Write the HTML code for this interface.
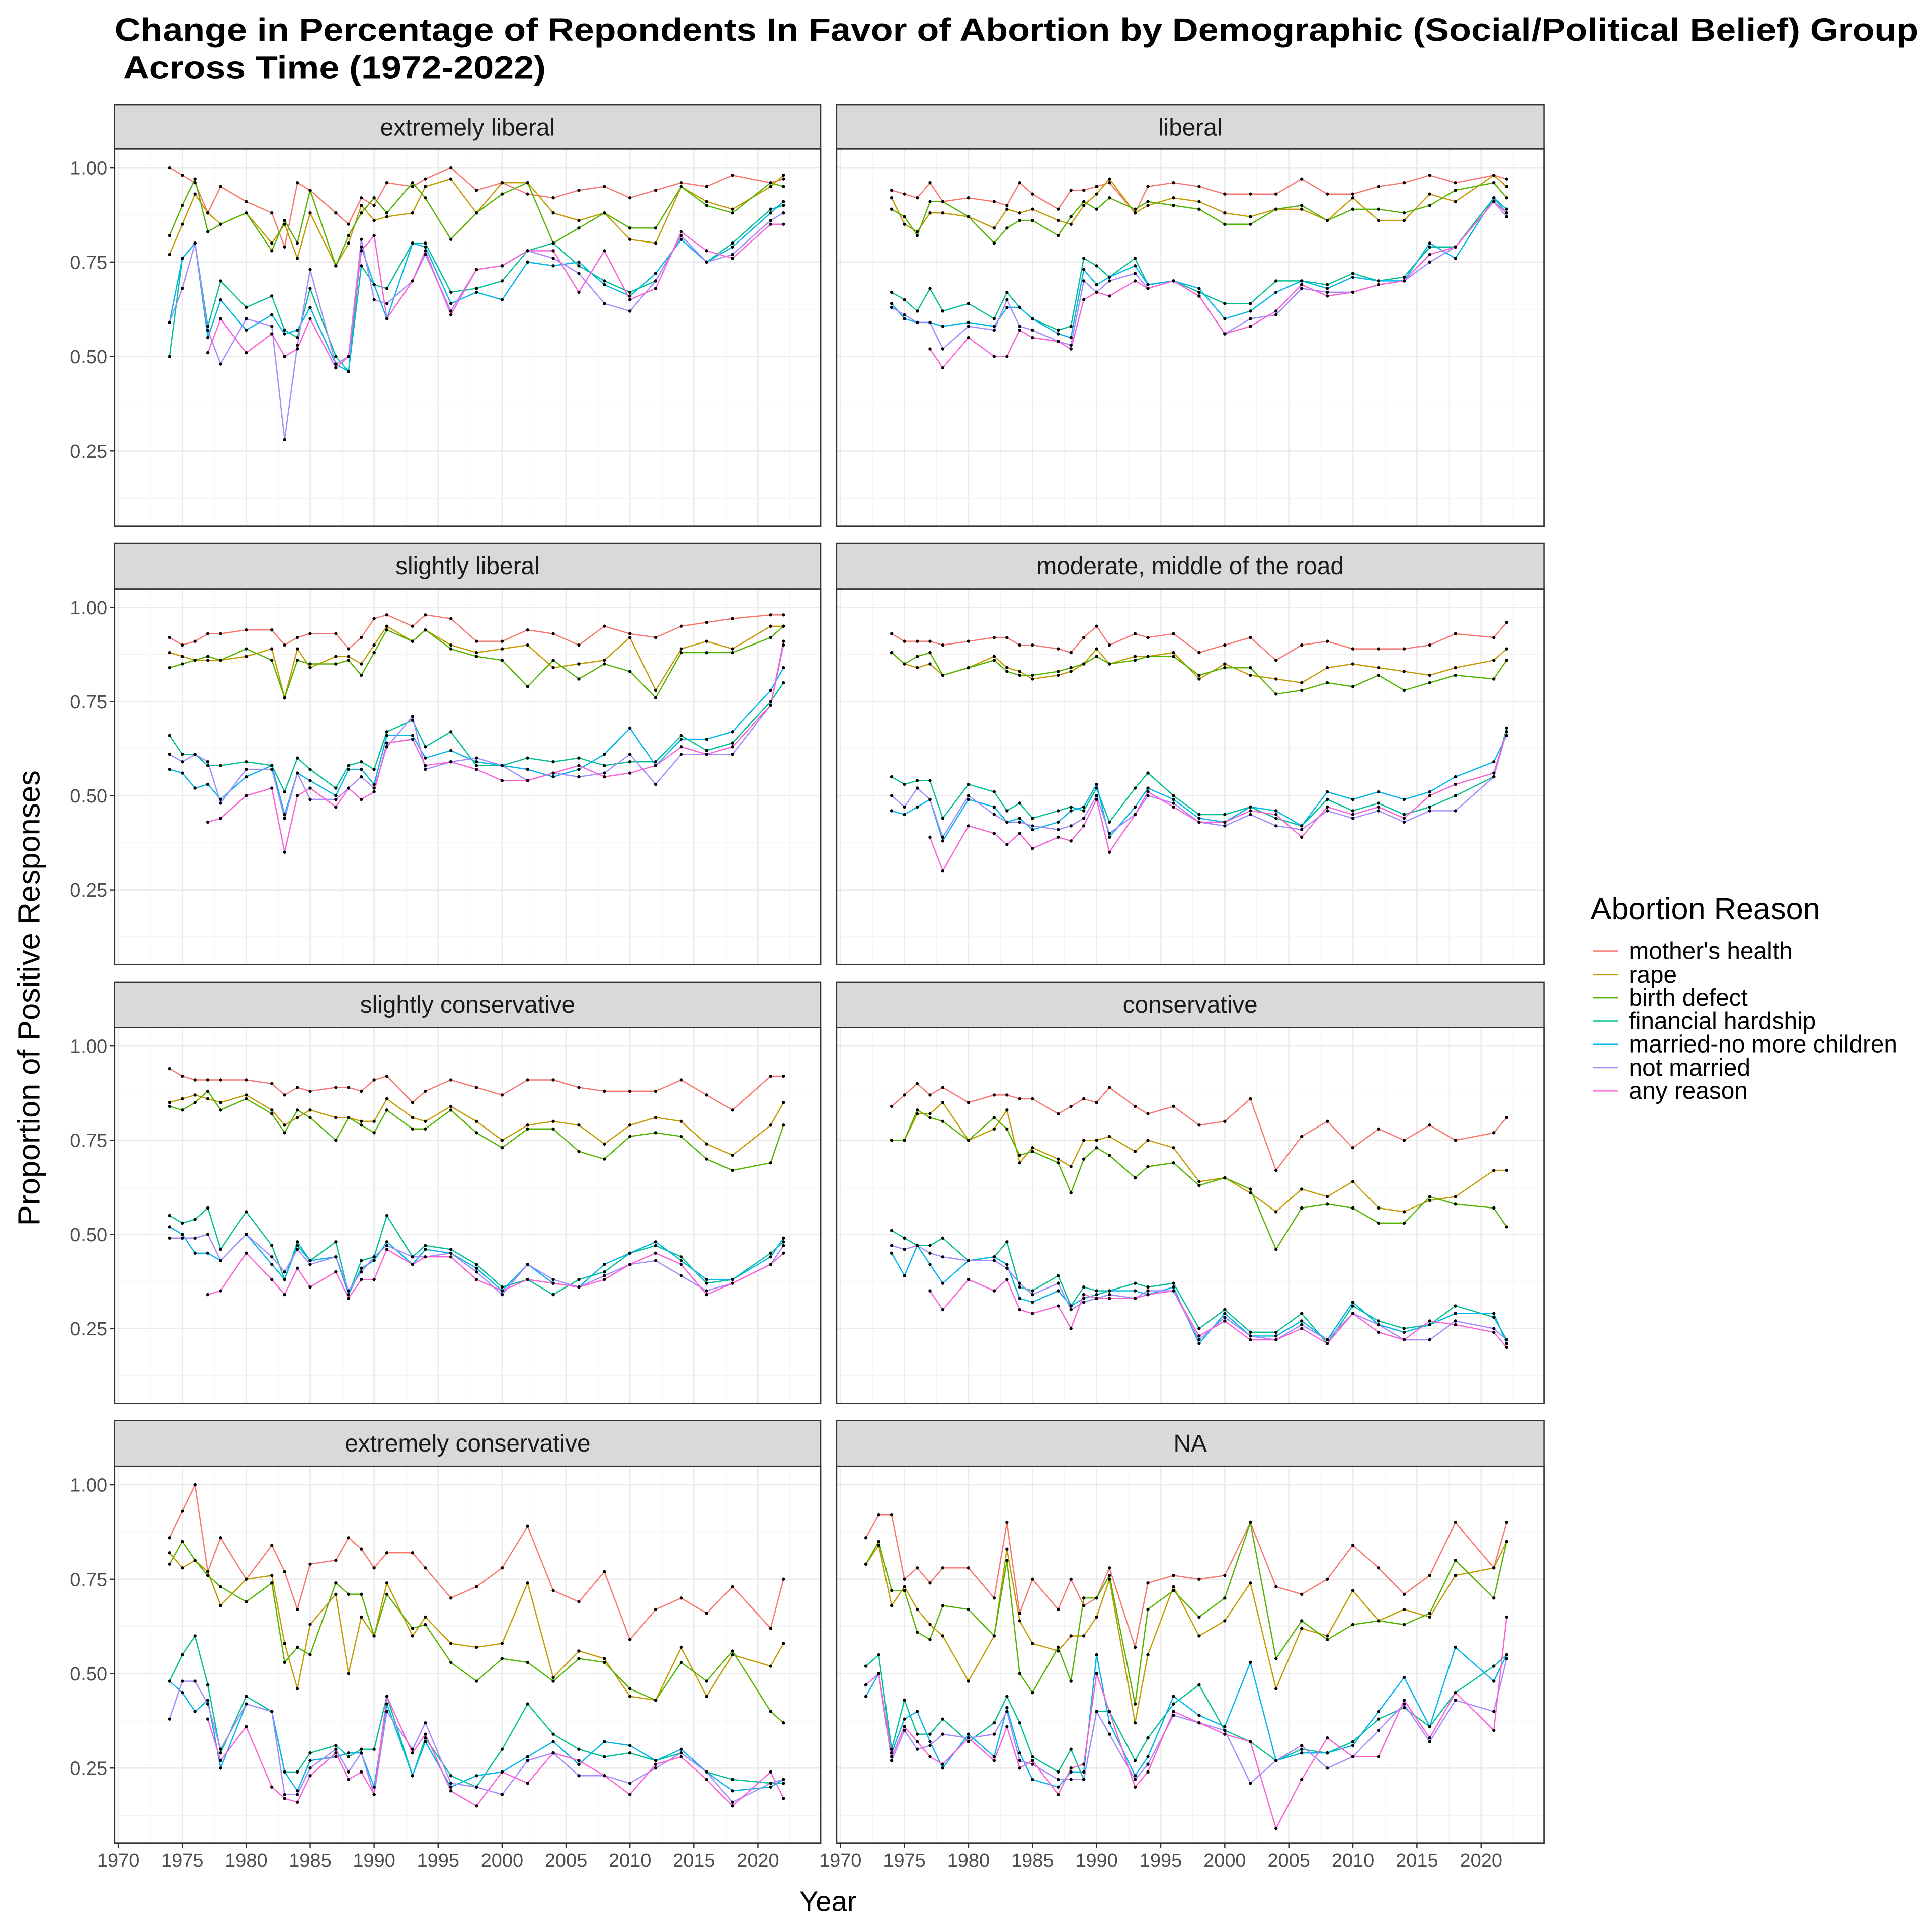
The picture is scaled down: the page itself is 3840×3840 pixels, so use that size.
<!DOCTYPE html>
<html><head><meta charset="utf-8"><style>
html,body{margin:0;padding:0;background:#fff;}
svg{display:block;}
text{font-family:"Liberation Sans",Arial,sans-serif;}
</style></head><body>
<svg id="s" width="3840" height="3840" viewBox="0 0 1568 1568" xmlns="http://www.w3.org/2000/svg">
<rect width="1568" height="1568" fill="#fff"/>
<text x="93" y="33" font-size="26" font-weight="bold" fill="#000" textLength="1464" lengthAdjust="spacingAndGlyphs">Change in Percentage of Repondents In Favor of Abortion by Demographic (Social/Political Belief) Group</text>
<text x="93" y="64" font-size="26" font-weight="bold" fill="#000" xml:space="preserve" textLength="350" lengthAdjust="spacingAndGlyphs"> Across Time (1972-2022)</text>
<text x="672" y="1551" font-size="23" text-anchor="middle">Year</text>
<text transform="translate(32,810) rotate(-90)" font-size="25" text-anchor="middle">Proportion of Positive Responses</text>
<text x="1291" y="746" font-size="25">Abortion Reason</text>
</svg>
<script>
const NS="http://www.w3.org/2000/svg",S=document.getElementById('s');
function el(t,a,txt){const e=document.createElementNS(NS,t);for(const k in a)e.setAttribute(k,a[k]);if(txt!=null)e.textContent=txt;S.appendChild(e);return e;}
const cols=["#F8766D","#C49A00","#53B400","#00C094","#00B6EB","#A58AFF","#FB61D7"];
const names=["mother's health","rape","birth defect","financial hardship","married-no more children","not married","any reason"];
const Y1=[1974,1975,1976,1977,1978,1980,1982,1983,1984,1985,1987,1988,1989,1990,1991,1993,1994,1996,1998,2000,2002,2004,2006,2008,2010,2012,2014,2016,2018,2021,2022];
const Y2=[1972,1973,1974,1975,1976,1977,1978,1980,1982,1983,1984,1985,1987,1988,1989,1990,1991,1993,1994,1996,1998,2000,2002,2004,2006,2008,2010,2012,2014,2016,2018,2021,2022];
const N=null;
const P=[
["extremely liberal",Y1,[
[1.0,.98,.96,.88,.95,.91,.88,.79,.96,.94,.88,.85,.92,.9,.96,.95,.97,1.0,.94,.96,.93,.92,.94,.95,.92,.94,.96,.95,.98,.96,.97],
[.77,.85,.93,.88,.85,.88,.8,.85,.76,.88,.74,.8,.9,.86,.87,.88,.95,.97,.88,.96,.96,.88,.86,.88,.81,.8,.95,.91,.89,.95,.98],
[.82,.9,.97,.83,.85,.88,.78,.86,.8,.94,.74,.82,.88,.92,.88,.96,.92,.81,.88,.93,.96,.8,.84,.88,.84,.84,.95,.9,.88,.96,.95],
[.5,.76,.8,.58,.7,.63,.66,.57,.55,.68,.5,.46,.74,.69,.68,.8,.8,.67,.68,.7,.78,.8,.74,.7,.67,.7,.82,.75,.8,.89,.9],
[.59,.76,.8,.55,.65,.57,.61,.56,.57,.63,.48,.46,.79,.69,.6,.8,.79,.64,.67,.65,.75,.74,.75,.69,.66,.72,.81,.75,.79,.88,.91],
[.59,.68,.8,.57,.48,.6,.58,.28,.53,.73,.48,.5,.81,.65,.64,.7,.77,.62,.73,.74,.78,.76,.72,.64,.62,.7,.82,.75,.77,.86,.88],
[N,N,N,.51,.6,.51,.56,.5,.52,.6,.47,.5,.78,.82,.6,.7,.78,.61,.73,.74,.78,.78,.67,.78,.65,.68,.83,.78,.76,.85,.85]]],
["liberal",Y1,[
[.94,.93,.92,.96,.91,.92,.91,.9,.96,.93,.89,.94,.94,.95,.96,.88,.95,.96,.95,.93,.93,.93,.97,.93,.93,.95,.96,.98,.96,.98,.97],
[.92,.85,.83,.88,.88,.87,.84,.89,.88,.89,.86,.85,.9,.93,.97,.88,.9,.92,.91,.88,.87,.89,.89,.86,.92,.86,.86,.93,.91,.98,.95],
[.89,.87,.82,.91,.91,.87,.8,.84,.86,.86,.82,.87,.91,.89,.92,.89,.91,.9,.89,.85,.85,.89,.9,.86,.89,.89,.88,.9,.94,.96,.92],
[.67,.65,.62,.68,.62,.64,.6,.67,.63,.6,.57,.58,.76,.74,.71,.76,.69,.7,.67,.64,.64,.7,.7,.69,.72,.7,.71,.79,.79,.92,.88],
[.64,.6,.59,.59,.58,.59,.58,.63,.63,.6,.56,.55,.73,.69,.71,.74,.69,.7,.68,.6,.62,.67,.7,.68,.71,.7,.7,.8,.76,.92,.89],
[.63,.61,.59,.59,.52,.58,.57,.65,.58,.57,.54,.53,.7,.67,.7,.72,.68,.7,.66,.56,.6,.61,.68,.67,.67,.69,.7,.75,.79,.91,.87],
[N,N,N,.52,.47,.55,.5,.5,.57,.55,.54,.52,.65,.67,.66,.7,.68,.7,.66,.56,.58,.62,.69,.66,.67,.69,.7,.77,.79,.91,.88]]],
["slightly liberal",Y1,[
[.92,.9,.91,.93,.93,.94,.94,.9,.92,.93,.93,.89,.92,.97,.98,.95,.98,.97,.91,.91,.94,.93,.9,.95,.93,.92,.95,.96,.97,.98,.98],
[.88,.87,.86,.86,.86,.87,.89,.76,.89,.84,.87,.87,.85,.9,.95,.91,.94,.9,.88,.89,.9,.84,.85,.86,.92,.78,.89,.91,.89,.95,.95],
[.84,.85,.86,.87,.86,.89,.86,.76,.86,.85,.85,.86,.82,.88,.94,.91,.94,.89,.87,.86,.79,.86,.81,.85,.83,.76,.88,.88,.88,.92,.95],
[.66,.61,.61,.58,.58,.59,.58,.51,.6,.57,.52,.58,.59,.57,.67,.7,.63,.67,.58,.58,.6,.59,.6,.58,.59,.59,.66,.62,.64,.75,.8],
[.57,.56,.52,.53,.49,.55,.58,.45,.56,.54,.5,.57,.57,.53,.66,.66,.6,.62,.59,.58,.57,.55,.57,.61,.68,.58,.65,.65,.67,.78,.84],
[.61,.59,.61,.59,.48,.57,.57,.44,.56,.49,.49,.52,.55,.52,.63,.71,.57,.59,.6,.58,.54,.56,.55,.56,.61,.53,.61,.61,.61,.74,.9],
[N,N,N,.43,.44,.5,.52,.35,.5,.52,.47,.52,.49,.51,.64,.65,.58,.59,.57,.54,.54,.56,.58,.55,.56,.58,.63,.61,.63,.74,.91]]],
["moderate, middle of the road",Y1,[
[.93,.91,.91,.91,.9,.91,.92,.92,.9,.9,.89,.88,.92,.95,.9,.93,.92,.93,.88,.9,.92,.86,.9,.91,.89,.89,.89,.9,.93,.92,.96],
[.88,.85,.84,.85,.82,.84,.87,.84,.83,.81,.82,.83,.85,.89,.85,.87,.87,.88,.81,.85,.82,.81,.8,.84,.85,.84,.83,.82,.84,.86,.89],
[.88,.85,.87,.88,.82,.84,.86,.83,.82,.82,.83,.84,.85,.87,.85,.86,.87,.87,.82,.84,.84,.77,.78,.8,.79,.82,.78,.8,.82,.81,.86],
[.55,.53,.54,.54,.44,.53,.51,.46,.48,.44,.46,.47,.46,.52,.43,.52,.56,.5,.45,.45,.47,.44,.42,.49,.46,.48,.45,.47,.5,.55,.68],
[.46,.45,.47,.49,.38,.49,.47,.43,.44,.41,.43,.46,.47,.53,.39,.47,.52,.49,.44,.43,.47,.46,.42,.51,.49,.51,.49,.51,.55,.59,.66],
[.5,.47,.52,.49,.39,.5,.45,.43,.43,.42,.41,.42,.44,.5,.4,.45,.5,.48,.43,.42,.45,.42,.41,.46,.44,.46,.43,.46,.46,.55,.67],
[N,N,N,.39,.3,.42,.4,.37,.4,.36,.39,.38,.42,.49,.35,.45,.51,.47,.43,.43,.46,.45,.39,.47,.45,.47,.44,.5,.53,.56,.67]]],
["slightly conservative",Y1,[
[.94,.92,.91,.91,.91,.91,.9,.87,.89,.88,.89,.89,.88,.91,.92,.85,.88,.91,.89,.87,.91,.91,.89,.88,.88,.88,.91,.87,.83,.92,.92],
[.85,.86,.87,.86,.85,.87,.83,.79,.81,.83,.81,.81,.8,.8,.86,.81,.8,.84,.8,.75,.79,.8,.79,.74,.79,.81,.8,.74,.71,.79,.85],
[.84,.83,.85,.88,.83,.86,.82,.77,.83,.81,.75,.81,.79,.77,.83,.78,.78,.83,.77,.73,.78,.78,.72,.7,.76,.77,.76,.7,.67,.69,.79],
[.55,.53,.54,.57,.46,.56,.47,.38,.48,.43,.48,.34,.43,.44,.55,.44,.47,.46,.42,.36,.38,.34,.38,.4,.45,.47,.44,.37,.38,.45,.48],
[.52,.5,.45,.45,.43,.5,.42,.38,.47,.43,.44,.34,.41,.43,.48,.42,.46,.45,.41,.35,.42,.37,.36,.42,.45,.48,.43,.38,.38,.44,.49],
[.49,.49,.49,.5,.43,.5,.44,.4,.46,.42,.44,.35,.4,.44,.47,.44,.44,.45,.4,.34,.42,.38,.36,.39,.42,.43,.39,.35,.37,.42,.47],
[N,N,N,.34,.35,.45,.38,.34,.41,.36,.4,.33,.38,.38,.46,.42,.44,.44,.38,.35,.38,.37,.36,.38,.42,.45,.42,.34,.37,.42,.45]]],
["conservative",Y1,[
[.84,.87,.9,.87,.89,.85,.87,.87,.86,.86,.82,.84,.86,.85,.89,.84,.82,.84,.79,.8,.86,.67,.76,.8,.73,.78,.75,.79,.75,.77,.81],
[.75,.75,.82,.82,.85,.75,.78,.83,.69,.73,.7,.68,.75,.75,.76,.72,.75,.73,.64,.65,.61,.56,.62,.6,.64,.57,.56,.59,.6,.67,.67],
[.75,.75,.83,.81,.8,.75,.81,.78,.71,.72,.69,.61,.7,.73,.71,.65,.68,.69,.63,.65,.62,.46,.57,.58,.57,.53,.53,.6,.58,.57,.52],
[.51,.49,.47,.47,.49,.43,.44,.48,.36,.35,.39,.31,.36,.35,.35,.37,.36,.37,.25,.3,.24,.24,.29,.21,.31,.27,.25,.26,.31,.28,.22],
[.45,.39,.47,.42,.37,.43,.44,.42,.33,.32,.35,.31,.33,.34,.35,.35,.34,.36,.21,.29,.23,.23,.27,.22,.32,.26,.24,.26,.29,.29,.21],
[.47,.46,.47,.45,.44,.43,.43,.41,.37,.34,.37,.3,.32,.33,.34,.33,.35,.35,.22,.28,.23,.22,.26,.22,.29,.26,.22,.22,.27,.25,.22],
[N,N,N,.35,.3,.38,.35,.38,.3,.29,.31,.25,.34,.33,.33,.33,.34,.35,.23,.27,.22,.22,.25,.21,.29,.24,.22,.27,.26,.24,.2]]],
["extremely conservative",Y1,[
[.86,.93,1.0,.77,.86,.75,.84,.77,.67,.79,.8,.86,.83,.78,.82,.82,.78,.7,.73,.78,.89,.72,.69,.77,.59,.67,.7,.66,.73,.62,.75],
[.82,.78,.8,.77,.68,.75,.76,.58,.46,.63,.71,.5,.65,.6,.74,.6,.65,.58,.57,.58,.74,.49,.56,.54,.44,.43,.57,.44,.55,.52,.58],
[.79,.85,.8,.76,.73,.69,.74,.53,.57,.55,.74,.71,.71,.6,.71,.62,.63,.53,.48,.54,.53,.48,.54,.53,.46,.43,.53,.48,.56,.4,.37],
[.48,.55,.6,.47,.29,.44,.4,.24,.24,.29,.31,.28,.3,.3,.44,.23,.33,.23,.2,.3,.42,.34,.3,.28,.29,.27,.29,.24,.22,.21,.21],
[.48,.45,.4,.43,.25,.42,.4,.24,.19,.27,.28,.29,.29,.2,.42,.23,.32,.2,.23,.24,.28,.32,.26,.32,.31,.27,.3,.24,.19,.2,.22],
[.38,.48,.48,.42,.3,.42,.4,.18,.18,.25,.3,.24,.29,.18,.4,.3,.37,.21,.2,.18,.27,.29,.23,.23,.21,.25,.29,.24,.16,.21,.22],
[N,N,N,.38,.27,.36,.2,.17,.16,.23,.29,.22,.24,.18,.44,.29,.34,.19,.15,.24,.21,.29,.27,.23,.18,.26,.28,.22,.15,.24,.17]]],
["NA",Y2,[
[.86,.92,.92,.75,.78,.74,.78,.78,.7,.9,.66,.75,.67,.75,.68,.7,.78,.57,.74,.76,.75,.76,.9,.73,.71,.75,.84,.78,.71,.76,.9,.78,.9],
[.79,.84,.68,.73,.67,.63,.6,.48,.6,.83,.64,.58,.56,.6,.6,.65,.75,.37,.55,.73,.6,.64,.74,.46,.62,.6,.72,.64,.67,.65,.76,.78,.85],
[.79,.85,.72,.72,.61,.59,.68,.67,.6,.8,.5,.45,.57,.48,.7,.7,.76,.42,.67,.72,.65,.7,.9,.54,.64,.59,.63,.64,.63,.66,.8,.7,.85],
[.52,.55,.3,.43,.34,.34,.38,.32,.37,.44,.37,.28,.24,.3,.22,.4,.4,.27,.33,.42,.47,.35,.32,.27,.3,.29,.32,.38,.41,.36,.45,.52,.55],
[.44,.5,.29,.38,.4,.32,.25,.34,.28,.41,.29,.22,.2,.24,.24,.55,.37,.23,.28,.44,.39,.36,.53,.27,.29,.29,.31,.4,.49,.36,.57,.48,.55],
[.47,.5,.27,.35,.3,.31,.34,.33,.34,.4,.27,.26,.22,.22,.22,.4,.34,.22,.26,.39,.37,.35,.21,.27,.31,.25,.28,.35,.42,.32,.43,.4,.54],
[.47,.5,.28,.36,.32,.28,.26,.33,.27,.36,.25,.27,.18,.25,.26,.5,.4,.2,.24,.4,.37,.34,.32,.09,.22,.33,.28,.28,.43,.33,.45,.35,.65]]]
];
const colsX=[[93,666],[679,1253]];
const rowsY=[[85,121,427],[441,478,783],[797,834,1139],[1153,1190,1496]];
P.forEach((p,i)=>{
 const c=i%2,r=Math.floor(i/2);
 const [x0,x1]=colsX[c],[s0,y0,y1]=rowsY[r];
 const fx=y=>x0+3+(y-1970)*(x1-x0-3)/(2024.9-1970);
 const fy=v=>y0+(1.049-v)*(y1-y0)/0.998;
 for(let v=0.125;v<1.05;v+=0.25) el('line',{x1:x0,x2:x1,y1:fy(v),y2:fy(v),stroke:'#F2F2F2','stroke-width':0.6});
 for(let y=1972.5;y<2025;y+=5) el('line',{x1:fx(y),x2:fx(y),y1:y0,y2:y1,stroke:'#F2F2F2','stroke-width':0.6});
 for(let v=0.25;v<=1.0001;v+=0.25) el('line',{x1:x0,x2:x1,y1:fy(v),y2:fy(v),stroke:'#EBEBEB','stroke-width':1.1});
 for(let y=1970;y<=2020;y+=5) el('line',{x1:fx(y),x2:fx(y),y1:y0,y2:y1,stroke:'#EBEBEB','stroke-width':1.1});
 el('rect',{x:x0,y:s0,width:x1-x0,height:y0-s0,fill:'#D9D9D9',stroke:'#333','stroke-width':1});
 el('text',{x:(x0+x1)/2,y:s0+25,'font-size':19.5,'text-anchor':'middle',fill:'#1A1A1A'},p[0]);
 p[2].forEach((arr,k)=>{
  let d='';let pen=false;
  arr.forEach((v,j)=>{if(v==null){pen=false;return;}d+=(pen?'L':'M')+fx(p[1][j]).toFixed(1)+','+fy(v).toFixed(1);pen=true;});
  el('path',{d:d,fill:'none',stroke:cols[k],'stroke-width':1});
 });
 p[2].forEach(arr=>arr.forEach((v,j)=>{if(v!=null)el('circle',{cx:fx(p[1][j]),cy:fy(v),r:1.3,fill:'#000'});}));
 el('rect',{x:x0,y:y0,width:x1-x0,height:y1-y0,fill:'none',stroke:'#333','stroke-width':1.1});
 if(c==0){[[0.25,'0.25'],[0.5,'0.50'],[0.75,'0.75'],[1,'1.00']].forEach(([v,t])=>{
   el('text',{x:x0-6,y:fy(v)+5.5,'font-size':15.5,'text-anchor':'end',fill:'#4D4D4D'},t);
   el('line',{x1:x0-4,x2:x0,y1:fy(v),y2:fy(v),stroke:'#333','stroke-width':1});});}
 if(r==3){for(let y=1970;y<=2020;y+=5){
   el('line',{x1:fx(y),x2:fx(y),y1:y1,y2:y1+4,stroke:'#333','stroke-width':1});
   el('text',{x:fx(y),y:y1+19,'font-size':15.5,'text-anchor':'middle',fill:'#4D4D4D'},String(y));}}
});
names.forEach((n,k)=>{
 const y=772+k*18.9;
 el('line',{x1:1293,x2:1313,y1:y,y2:y,stroke:cols[k],'stroke-width':1});
 el('text',{x:1322,y:y+6.5,'font-size':19.5,fill:'#000'},n);
});
</script>
</body></html>
